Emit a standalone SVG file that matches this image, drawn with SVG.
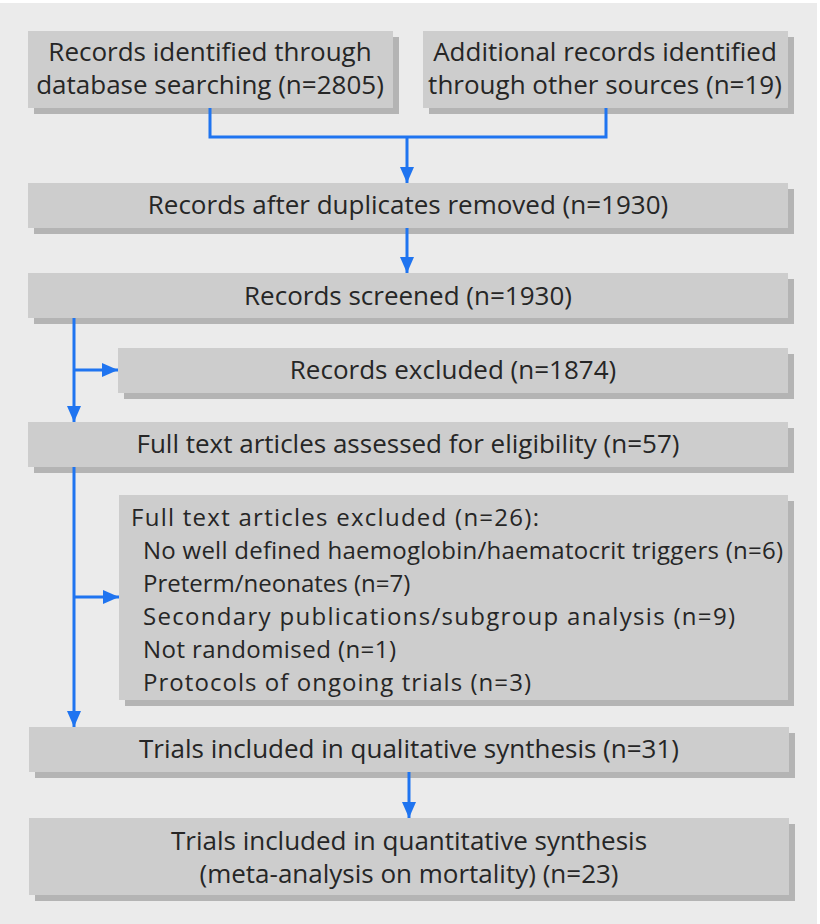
<svg xmlns="http://www.w3.org/2000/svg" width="820" height="924" viewBox="0 0 820 924">
<defs>
<marker id="ah" markerUnits="userSpaceOnUse" markerWidth="18" markerHeight="14" refX="16" refY="7" orient="auto">
<path d="M0,0 L16,7 L0,14 Z" fill="#1f74f0"/>
</marker>
<style>
.box{fill:#cdcdcd}
.sh{fill:#b4b4b4}
.t{font-family:"Open Sans","Noto Sans","DejaVu Sans",sans-serif;font-size:26px;fill:#262626}
.s{font-size:24px}
.c{text-anchor:middle}
.ln{fill:none;stroke:#1f74f0;stroke-width:3}
</style>
</defs>
<rect x="0" y="0" width="820" height="924" fill="#ffffff"/>
<rect x="0" y="3" width="817" height="921" fill="#ebebeb"/>
<g id="n1">
<rect class="sh" x="34" y="37" width="365" height="77"/>
<rect class="box" x="28" y="31" width="365" height="77"/>
<text class="t c"><tspan x="210" y="61">Records identified through</tspan><tspan x="210" y="94">database searching (n=2805)</tspan></text>
</g>
<g id="n2">
<rect class="sh" x="429" y="37" width="365" height="77"/>
<rect class="box" x="423" y="31" width="365" height="77"/>
<text class="t c"><tspan x="605" y="61">Additional records identified</tspan><tspan x="605" y="94">through other sources (n=19)</tspan></text>
</g>
<g id="n3">
<rect class="sh" x="34" y="189" width="760" height="45"/>
<rect class="box" x="28" y="183" width="760" height="45"/>
<text class="t c" x="408" y="214">Records after duplicates removed (n=1930)</text>
</g>
<g id="n4">
<rect class="sh" x="34" y="279" width="760" height="45"/>
<rect class="box" x="28" y="273" width="760" height="45"/>
<text class="t c" x="408" y="305">Records screened (n=1930)</text>
</g>
<g id="n5">
<rect class="sh" x="124" y="354" width="670" height="45"/>
<rect class="box" x="118" y="348" width="670" height="45"/>
<text class="t c" x="453" y="379">Records excluded (n=1874)</text>
</g>
<g id="n6">
<rect class="sh" x="34" y="428" width="760" height="45"/>
<rect class="box" x="28" y="422" width="760" height="45"/>
<text class="t c" x="408" y="453">Full text articles assessed for eligibility (n=57)</text>
</g>
<g id="n7">
<rect class="sh" x="125" y="501" width="669" height="205"/>
<rect class="box" x="119" y="495" width="669" height="205"/>
<text class="t s" x="131" y="526" textLength="408" lengthAdjust="spacing">Full text articles excluded (n=26):</text>
<text class="t s" x="143" y="559" textLength="640" lengthAdjust="spacing">No well defined haemoglobin/haematocrit triggers (n=6)</text>
<text class="t s" x="143" y="592">Preterm/neonates (n=7)</text>
<text class="t s" x="143" y="625" textLength="592" lengthAdjust="spacing">Secondary publications/subgroup analysis (n=9)</text>
<text class="t s" x="143" y="658" textLength="253" lengthAdjust="spacing">Not randomised (n=1)</text>
<text class="t s" x="143" y="691" textLength="388" lengthAdjust="spacing">Protocols of ongoing trials (n=3)</text>
</g>
<g id="n8">
<rect class="sh" x="35" y="733" width="760" height="45"/>
<rect class="box" x="29" y="727" width="760" height="45"/>
<text class="t c" x="409" y="758">Trials included in qualitative synthesis (n=31)</text>
</g>
<g id="n9">
<rect class="sh" x="35" y="824" width="760" height="77"/>
<rect class="box" x="29" y="818" width="760" height="77"/>
<text class="t c"><tspan x="409" y="850">Trials included in quantitative synthesis</tspan><tspan x="409" y="883">(meta-analysis on mortality) (n=23)</tspan></text>
</g>
<g id="connectors">
<polyline class="ln" points="210,108 210,137 606,137 606,108"/>
<line class="ln" x1="407" y1="137" x2="407" y2="183" marker-end="url(#ah)"/>
<line class="ln" x1="407" y1="228" x2="407" y2="273" marker-end="url(#ah)"/>
<line class="ln" x1="74" y1="318" x2="74" y2="422" marker-end="url(#ah)"/>
<line class="ln" x1="74" y1="370" x2="118" y2="370" marker-end="url(#ah)"/>
<line class="ln" x1="74" y1="467" x2="74" y2="727" marker-end="url(#ah)"/>
<line class="ln" x1="74" y1="597" x2="119" y2="597" marker-end="url(#ah)"/>
<line class="ln" x1="409" y1="772" x2="409" y2="818" marker-end="url(#ah)"/>
</g>
</svg>
